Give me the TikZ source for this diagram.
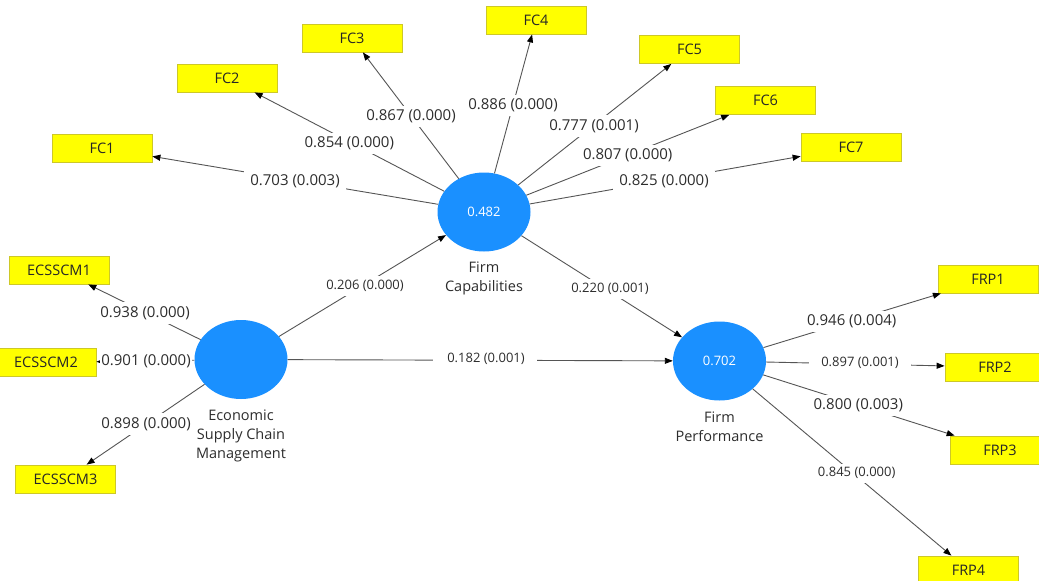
\documentclass[tikz,border=0pt]{standalone}
\usepackage{fontspec}
\setmainfont{Open Sans}
\usetikzlibrary{arrows.meta,shapes.geometric}
\definecolor{latent}{RGB}{26,144,255}
\definecolor{indfill}{RGB}{255,255,0}
\definecolor{inddraw}{RGB}{205,200,40}
\definecolor{linkgray}{RGB}{85,85,85}
\definecolor{labgray}{RGB}{45,45,45}
\tikzset{
  indicator/.style={rectangle, fill=indfill, draw=inddraw, line width=0.8pt,
    minimum width=100pt, minimum height=28pt, inner sep=0pt,
    text=black!85, font=\fontsize{14.5}{17}\selectfont},
  construct/.style={ellipse, fill=latent, draw=none, minimum width=93pt,
    minimum height=79pt, inner sep=0pt, text=white,
    font=\fontsize{13}{15}\selectfont},
  cname/.style={align=center, text=labgray,
    font=\fontsize{14.5}{19}\selectfont},
  link/.style={draw=linkgray, line width=0.9pt,
    -{Triangle[length=8pt,width=6pt,color=black]}},
  coef/.style={fill=white, inner xsep=6pt, inner ysep=4pt, text=labgray,
    font=\fontsize{15}{17}\selectfont},
  coefs/.style={fill=white, inner xsep=8pt, inner ysep=4pt, text=labgray,
    font=\fontsize{13}{15}\selectfont}
}
\begin{document}
\begin{tikzpicture}[x=1pt,y=-1pt]
\clip (0,0) rectangle (1039,581);
\fill[white] (0,0) rectangle (1039,581);

% latent constructs
\node[construct] (fc)  at (484,212)   {0.482};
\node[construct] (esc) at (241,359.5) {};
\node[construct] (fp)  at (719.5,361) {0.702};

\node[cname] (fcname)  at (484,278.5) {Firm\\Capabilities};
\node[cname] (escname) at (241,435.7) {Economic\\Supply Chain\\Management};
\node[cname] (fpname)  at (719.5,427) {Firm\\Performance};

% indicators
\node[indicator] (fc1) at (102,148)    {FC1};
\node[indicator] (fc2) at (227,78)     {FC2};
\node[indicator] (fc3) at (352,38)     {FC3};
\node[indicator] (fc4) at (536,20)     {FC4};
\node[indicator] (fc5) at (689.5,49.5) {FC5};
\node[indicator] (fc6) at (765.5,100.5){FC6};
\node[indicator] (fc7) at (851,147.5)  {FC7};

\node[indicator] (e1) at (59,270)    {ECSSCM1};
\node[indicator] (e2) at (46,362.5)  {ECSSCM2};
\node[indicator] (e3) at (65.5,479)  {ECSSCM3};

\node[indicator] (p1) at (988,279)   {FRP1};
\node[indicator] (p2) at (995,367)   {FRP2};
\node[indicator] (p3) at (1000,450)  {FRP3};
\node[indicator] (p4) at (968.5,570) {FRP4};

% outer loadings
\foreach \t in {fc1,fc2,fc3,fc4,fc5,fc6,fc7} \draw[link] (fc) -- (\t);
\foreach \t in {e1,e2,e3} \draw[link] (esc) -- (\t);
\foreach \t in {p1,p2,p3,p4} \draw[link] (fp) -- (\t);

% structural paths
\draw[link] (esc) -- (fc);
\draw[link] (esc) -- (fp);
\draw[link] (fc) -- (fp);

% coefficients
\node[coef] (l1) at (295,181.7) {0.703 (0.003)};
\node[coef] (l2) at (349.3,143.3) {0.854 (0.000)};
\node[coef] (l3) at (411,116.7) {0.867 (0.000)};
\node[coef] (l4) at (513,105.5) {0.886 (0.000)};
\node[coef] (l5) at (594,126) {0.777 (0.001)};
\node[coef] (l6) at (627.7,155.7) {0.807 (0.000)};
\node[coef] (l7) at (664,181.7) {0.825 (0.000)};

\node[coef] (m1) at (145,313) {0.938 (0.000)};
\node[coef, inner xsep=1pt] (m2) at (146,361) {0.901 (0.000)};
\node[coef] (m3) at (146,424) {0.898 (0.000)};

\node[coef]  (r1) at (851.7,321.7) {0.946 (0.004)};
\node[coefs, inner xsep=12pt] (r2) at (860,363.3) {0.897 (0.001)};
\node[coef]  (r3) at (858.3,405.7) {0.800 (0.003)};
\node[coefs] (r4) at (856.7,473.3) {0.845 (0.000)};

\node[coefs] (s1) at (365,286) {0.206 (0.000)};
\node[coefs] (s2) at (610,289) {0.220 (0.001)};
\node[coefs, inner xsep=12pt] (s3) at (485,359) {\hspace*{2pt}0.182 (0.001)};
\end{tikzpicture}
\end{document}
